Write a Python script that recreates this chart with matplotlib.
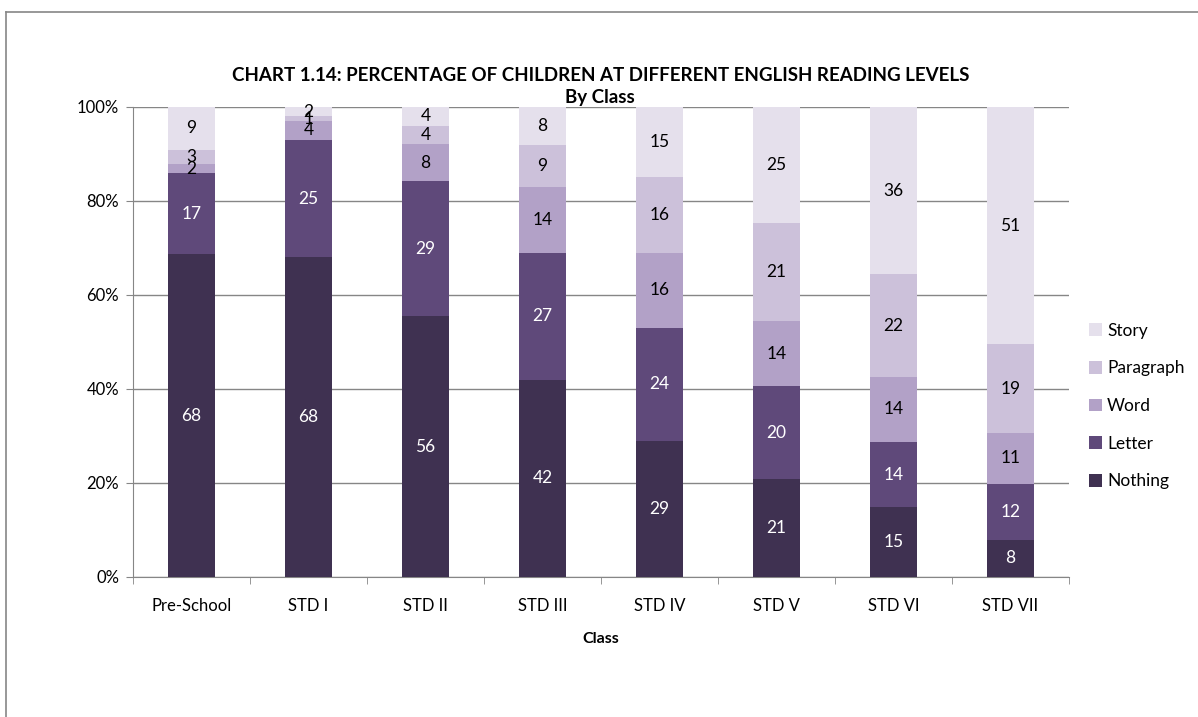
import numpy as np
import matplotlib.pyplot as plt
from matplotlib.ticker import PercentFormatter

plt.rcParams['font.family'] = ['Lato', 'DejaVu Sans']

# reading levels per class (percent of children)
classes = ['Pre-School', 'STD I', 'STD II', 'STD III', 'STD IV', 'STD V', 'STD VI', 'STD VII']
nothing = [68, 68, 56, 42, 29, 21, 15, 8]
letter = [17, 25, 29, 27, 24, 20, 14, 12]
word = [2, 4, 8, 14, 16, 14, 14, 11]
paragraph = [3, 1, 4, 9, 16, 21, 22, 19]
story = [9, 2, 4, 8, 15, 25, 36, 51]

levels = ['Nothing', 'Letter', 'Word', 'Paragraph', 'Story']
series = [nothing, letter, word, paragraph, story]
colors = ['#3F3151', '#5F497A', '#B2A1C7', '#CCC1DA', '#E5E0EC']
text_colors = ['white', 'white', 'black', 'black', 'black']

data = np.array(series, dtype=float)
shares = data / data.sum(axis=0) * 100  # 100% stacked

fig = plt.figure(figsize=(11.98, 7.17), dpi=100)
ax = fig.add_axes([0.111, 0.1953, 0.7813, 0.6555])

x = np.arange(len(classes))
bottom = np.zeros(len(classes))
handles = []
for name, vals, sh, col, tc in zip(levels, series, shares, colors, text_colors):
    bars = ax.bar(x, sh, 0.4, bottom=bottom, color=col, label=name, zorder=3)
    handles.append(bars)
    for xi, b, h, v in zip(x, bottom, sh, vals):
        ax.text(xi, b + h / 2, str(v), ha='center', va='center', color=tc,
                fontsize=12.5, zorder=4)
    bottom += sh

ax.set_xlim(-0.5, len(classes) - 0.5)
ax.set_ylim(0, 100)
ax.set_yticks(np.arange(0, 101, 20))
ax.yaxis.set_major_formatter(PercentFormatter(decimals=0))
ax.set_xticks(x)
ax.set_xticklabels(classes)
ax.set_xticks(np.arange(-0.5, len(classes)), minor=True)
ax.tick_params(axis='x', which='major', length=0, pad=15, labelsize=12)
ax.tick_params(axis='x', which='minor', length=5, color='#868686')
ax.tick_params(axis='y', length=5, color='#868686', labelsize=12, pad=5)
ax.grid(axis='y', color='#868686', linewidth=1, zorder=0)
for side in ['top', 'right']:
    ax.spines[side].set_visible(False)
for side in ['left', 'bottom']:
    ax.spines[side].set_color('#868686')
ax.set_xlabel('Class', fontsize=11.5, fontweight='bold', labelpad=13)

leg = fig.legend(handles[::-1], levels[::-1], loc='center left',
                 bbox_to_anchor=(1080 / 1198, 1 - 406 / 717), frameon=False,
                 fontsize=12.5, handlelength=0.75, handleheight=0.75,
                 labelspacing=1.25, handletextpad=0.3, borderpad=0)

fig.text(0.501, 0.895, 'CHART 1.14: PERCENTAGE OF CHILDREN AT DIFFERENT ENGLISH READING LEVELS',
         ha='center', va='center', fontsize=13.5, fontweight='bold')
fig.text(0.501, 0.864, 'By Class', ha='center', va='center', fontsize=13.5, fontweight='bold')

# chart frame, running off the right and bottom edges
fig.add_artist(plt.Line2D([0.005, 1.0], [0.983, 0.983], transform=fig.transFigure,
                          color='#868686', linewidth=1.2))
fig.add_artist(plt.Line2D([0.005, 0.005], [0.983, 0.0], transform=fig.transFigure,
                          color='#868686', linewidth=1.2))

fig.savefig('out.png', dpi=100, facecolor='white')
